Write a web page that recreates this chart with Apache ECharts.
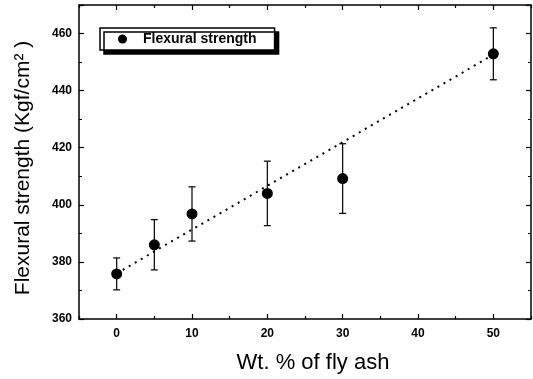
<!DOCTYPE html>
<html>
<head>
<meta charset="utf-8">
<script src="https://cdn.jsdelivr.net/npm/echarts@6/dist/echarts.min.js"></script>
<style>html,body{margin:0;padding:0;background:#fff}#c{width:533px;height:379px}</style>
</head>
<body>
<div id="c"></div>
<script>
// Data
const flyAsh = [0, 5, 10, 20, 30, 50];
const strength = [375.8, 386.0, 396.8, 404.0, 409.2, 452.9];
const errors = [5.6, 8.8, 9.5, 11.3, 12.2, 9.1];
const fitX = [0, 50];
const fitY = [376.0, 452.6];
const xMajorTicks = [0, 10, 20, 30, 40, 50];
const xMinorTicks = [-5, 5, 15, 25, 35, 45, 55];
const yTickLabels = [360, 380, 400, 420, 440, 460];

const FONT = '"Liberation Sans", Arial, sans-serif';
const chart = echarts.init(document.getElementById('c'), null, {renderer: 'canvas'});

const pointData = flyAsh.map((x, i) => [x, strength[i]]);
const errData = flyAsh.map((x, i) => [x, strength[i] - errors[i], strength[i] + errors[i]]);
const fitData = fitX.map((x, i) => [x, fitY[i]]);

function xAxisBase(pos, ticks, len, showLine, showLabel) {
  return {
    type: 'value', position: pos, min: -5, max: 55,
    splitLine: {show: false},
    axisLine: {show: showLine, onZero: false, lineStyle: {color: '#000', width: 1.5}},
    axisTick: {show: true, inside: true, length: len, customValues: ticks, lineStyle: {color: '#000', width: 1.2}},
    axisLabel: showLabel ? {show: true, customValues: xMajorTicks, color: '#000', fontWeight: 'bold', fontSize: 12, fontFamily: FONT, margin: 9} : {show: false}
  };
}

const xAxes = [
  Object.assign(xAxisBase('bottom', xMajorTicks, 5, true, true), {
    name: 'Wt. % of fly ash', nameLocation: 'middle', nameGap: 33,
    nameTextStyle: {color: '#000', fontSize: 22, fontFamily: FONT, padding: [0, 0, 0, 16]}
  }),
  xAxisBase('bottom', xMinorTicks, 3, false, false),
  xAxisBase('top', xMajorTicks, 5, true, false),
  xAxisBase('top', xMinorTicks, 3, false, false)
];

function yAxisBase(pos, showLabel) {
  return {
    type: 'value', position: pos, min: 360, max: 470, interval: 20,
    splitLine: {show: false},
    axisLine: {show: true, onZero: false, lineStyle: {color: '#000', width: 1.5}},
    axisTick: {show: true, inside: true, length: 5, lineStyle: {color: '#000', width: 1.2}},
    minorTick: {show: true, splitNumber: 2, length: 3, lineStyle: {color: '#000', width: 1}},
    axisLabel: showLabel ? {show: true, customValues: yTickLabels, color: '#000', fontWeight: 'bold', fontSize: 12, fontFamily: FONT, margin: 7} : {show: false}
  };
}

const yAxes = [
  Object.assign(yAxisBase('left', true), {
    name: 'Flexural strength (Kgf/cm\u00B2 )', nameLocation: 'middle', nameGap: 45,
    nameTextStyle: {color: '#000', fontSize: 21, fontFamily: FONT, padding: [0, 12, 0, 0]}
  }),
  yAxisBase('right', false)
];

chart.setOption({
  animation: false,
  backgroundColor: '#fff',
  grid: {left: 79, right: 2, top: 5, bottom: 57, containLabel: false},
  xAxis: xAxes,
  yAxis: yAxes,
  legend: {
    show: true, left: 100, top: 28, orient: 'horizontal',
    data: [{name: 'Flexural strength', icon: 'circle', itemStyle: {color: '#000', opacity: 1}}],
    itemWidth: 9, itemHeight: 9,
    padding: [4, 18, 4, 18],
    backgroundColor: '#fff', borderColor: '#000', borderWidth: 1.5, borderRadius: 0,
    shadowColor: '#000', shadowBlur: 0, shadowOffsetX: 4, shadowOffsetY: 4,
    textStyle: {color: '#000', fontWeight: 'bold', fontSize: 14, fontFamily: FONT, padding: [0, 0, 0, 11]}
  },
  series: [
    {
      name: 'fit', type: 'line', data: fitData, xAxisIndex: 0, yAxisIndex: 0,
      showSymbol: false, symbol: 'none', silent: true,
      lineStyle: {color: '#000', width: 2, type: [2, 5]}, z: 1
    },
    {
      name: 'error', type: 'custom', xAxisIndex: 0, yAxisIndex: 0, data: errData, z: 2,
      renderItem: function (params, api) {
        const x = api.value(0);
        const lo = api.coord([x, api.value(1)]);
        const hi = api.coord([x, api.value(2)]);
        const cw = 3.5;
        const st = {stroke: '#000', lineWidth: 1.2};
        return {type: 'group', children: [
          {type: 'line', shape: {x1: lo[0], y1: lo[1], x2: hi[0], y2: hi[1]}, style: st},
          {type: 'line', shape: {x1: hi[0] - cw, y1: hi[1], x2: hi[0] + cw, y2: hi[1]}, style: st},
          {type: 'line', shape: {x1: lo[0] - cw, y1: lo[1], x2: lo[0] + cw, y2: lo[1]}, style: st}
        ]};
      }
    },
    {
      name: 'Flexural strength', type: 'scatter', data: pointData, xAxisIndex: 0, yAxisIndex: 0,
      symbol: 'circle', symbolSize: 11, itemStyle: {color: '#000', opacity: 1}, z: 3
    }
  ]
});
</script>
</body>
</html>
